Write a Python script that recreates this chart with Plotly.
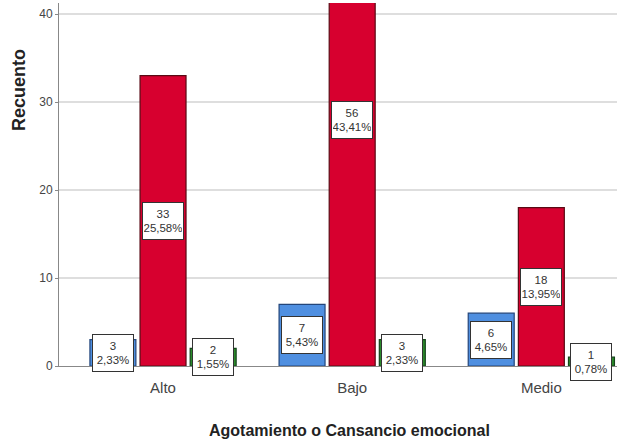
import plotly.graph_objects as go

# Counts per burnout level (Agotamiento o Cansancio emocional)
categories = ["Alto", "Bajo", "Medio"]
series_names = ["Bajo", "Medio", "Alto"]
counts_blue = [3, 7, 6]
counts_red = [33, 56, 18]
counts_green = [2, 3, 1]
pct_blue = ["2,33%", "5,43%", "4,65%"]
pct_red = ["25,58%", "43,41%", "13,95%"]
pct_green = ["1,55%", "2,33%", "0,78%"]
y_ticks = [0, 10, 20, 30, 40]

fills = ["#4f8fe0", "#d7002f", "#2b8a2b"]
edges = ["#23457a", "#5a0a14", "#14451a"]

series = [
    (counts_blue, pct_blue),
    (counts_red, pct_red),
    (counts_green, pct_green),
]

xpos = list(range(len(categories)))
bar_w = 0.243
slot = 0.265

fig = go.Figure()
annotations = []
for k, ((vals, pcts), fc, ec, name) in enumerate(zip(series, fills, edges, series_names)):
    shift = (k - 1) * slot
    fig.add_trace(go.Bar(
        x=xpos, y=vals, name=name,
        width=bar_w, offset=shift - bar_w / 2,
        marker=dict(color=fc, line=dict(color=ec, width=1.2)),
        showlegend=False, hoverinfo="skip",
    ))
    for i, (v, p) in enumerate(zip(vals, pcts)):
        annotations.append(dict(
            x=i + shift, y=v / 2, xref="x", yref="y",
            text=f"{v}<br>{p}", showarrow=False,
            font=dict(family="Liberation Sans, Arial", size=11.5, color="#333"),
            bgcolor="white", bordercolor="#333", borderwidth=1, borderpad=1,
            width=38, height=34, align="center", valign="middle",
            xanchor="center", yanchor="middle",
        ))

annotations.append(dict(
    text="<b>Recuento</b>", xref="paper", yref="paper",
    x=-0.072, y=0.76, textangle=-90, showarrow=False,
    xanchor="center", yanchor="middle",
    font=dict(family="Liberation Sans, Arial", size=18, color="#222"),
))
annotations.append(dict(
    text="<b>Agotamiento o Cansancio emocional</b>", xref="paper", yref="paper",
    x=0.52, y=-(430 - 366) / 363, showarrow=False,
    xanchor="center", yanchor="middle",
    font=dict(family="Liberation Sans, Arial", size=16, color="#222"),
))

fig.update_layout(
    width=623, height=441,
    margin=dict(l=59, r=6, t=3, b=75),
    paper_bgcolor="white", plot_bgcolor="white",
    annotations=annotations,
    xaxis=dict(
        range=[-0.55, 2.40], tickvals=xpos, ticktext=categories,
        showgrid=False, zeroline=False, showline=True, linecolor="#888", linewidth=1,
        ticks="", ticklabelstandoff=8,
        tickfont=dict(family="Liberation Sans, Arial", size=15, color="#444"),
    ),
    yaxis=dict(
        range=[0, 41.25], tickvals=y_ticks,
        showgrid=True, gridcolor="#dedede", gridwidth=1.5,
        zeroline=False, showline=True, linecolor="#888", linewidth=1,
        ticks="outside", ticklen=3, tickcolor="#888",
        tickfont=dict(family="Liberation Sans, Arial", size=12, color="#444"),
    ),
)

fig.write_html("out.html")
